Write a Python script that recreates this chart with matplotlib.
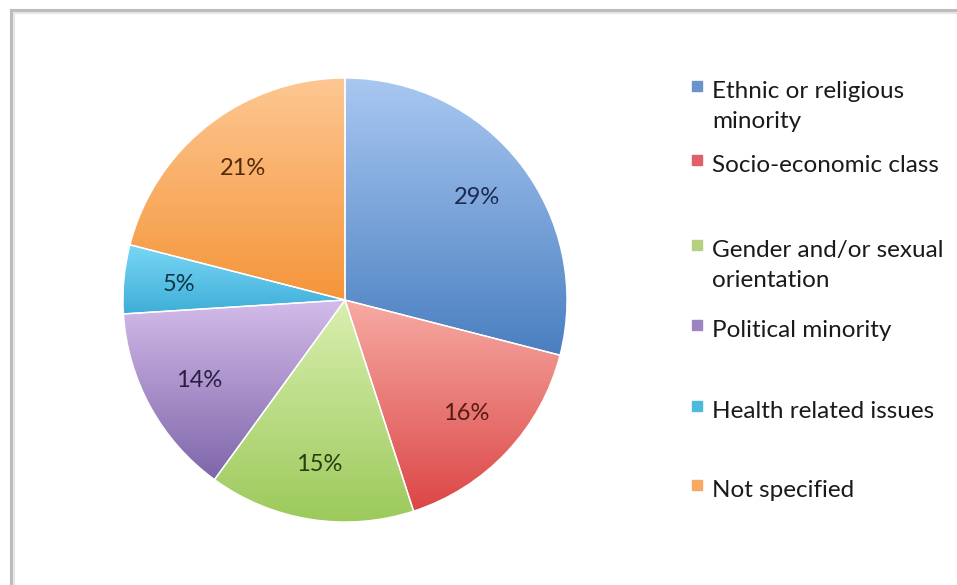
import numpy as np
import matplotlib
matplotlib.use("Agg")
import matplotlib.pyplot as plt
from matplotlib.colors import LinearSegmentedColormap
from matplotlib.lines import Line2D

categories = ["Ethnic or religious\nminority", "Socio-economic class",
              "Gender and/or sexual\norientation", "Political minority",
              "Health related issues", "Not specified"]
shares = [29, 16, 15, 14, 5, 21]

top_colors = ["#a9c8f2", "#f7aba4", "#d9efb0", "#d3bbea", "#7ad7f5", "#fdc792"]
bottom_colors = ["#4a7fc0", "#db4646", "#9bc95a", "#7e65a9", "#3eaed8", "#f5953a"]
key_colors = ["#6a93cc", "#e0606a", "#b4d080", "#9c84c4", "#4cbad8", "#f8a860"]
label_colors = ["#1c2a52", "#551c18", "#2b3c0f", "#2c1d44", "#0f3646", "#55290a"]

W, H, DPI = 957, 585, 100
fig = plt.figure(figsize=(W / DPI, H / DPI), dpi=DPI)
fig.patch.set_facecolor("white")

# pie centred at (345, 300) px with radius 222 px
R = 222
cx, cy = 345, 300
half = 1.25 * R
ax = fig.add_axes([(cx - half) / W, (H - cy - half) / H, 2 * half / W, 2 * half / H])

wedges, texts, autotexts = ax.pie(
    shares, startangle=90, counterclock=False, radius=1,
    autopct="%d%%", pctdistance=0.75,
    wedgeprops=dict(edgecolor="white", linewidth=1.0),
    textprops=dict(fontsize=17, family="Lato"))
ax.set_xlim(-1.25, 1.25)
ax.set_ylim(-1.25, 1.25)
ax.set_aspect("equal")
ax.axis("off")

# vertical gradient fill for each wedge
for w, ct, cb in zip(wedges, top_colors, bottom_colors):
    verts = w.get_path().vertices
    x0, x1 = verts[:, 0].min(), verts[:, 0].max()
    y0, y1 = verts[:, 1].min(), verts[:, 1].max()
    cmap = LinearSegmentedColormap.from_list("g", [cb, ct])
    grad = np.linspace(0, 1, 256).reshape(-1, 1)
    im = ax.imshow(grad, cmap=cmap, origin="lower", aspect="auto",
                   extent=[x0, x1, y0, y1], zorder=0.5, interpolation="bilinear")
    im.set_clip_path(w)
    w.set_facecolor("none")
    w.set_zorder(1)

for t, c in zip(autotexts, label_colors):
    t.set_color(c)
    t.set_zorder(3)

# legend drawn as keys and text in figure pixels (baseline of first line)
legend_baselines = [98, 172, 257, 337, 418, 497]
line_step = 30
for name, col, yb in zip(categories, key_colors, legend_baselines):
    yc = yb - 12
    fig.patches.append(plt.Rectangle((692 / W, (H - yc - 5) / H), 10 / W, 10 / H,
                                     transform=fig.transFigure, color=col, figure=fig))
    for k, line in enumerate(name.split("\n")):
        fig.text(712 / W, (H - yb - k * line_step) / H, line, fontsize=17.5,
                 family="Lato", color="#1a1a1a", va="baseline", ha="left")

# chart frame along top and left
fig.add_artist(Line2D([11 / W, 1], [(H - 10) / H] * 2, transform=fig.transFigure,
                      color="#bcbcbc", lw=2.2))
fig.add_artist(Line2D([11 / W] * 2, [0, (H - 10) / H], transform=fig.transFigure,
                      color="#bcbcbc", lw=2.2))
fig.add_artist(Line2D([13.5 / W, 1], [(H - 12.5) / H] * 2, transform=fig.transFigure,
                      color="#e6e6e6", lw=1.5))
fig.add_artist(Line2D([13.5 / W] * 2, [0, (H - 12.5) / H], transform=fig.transFigure,
                      color="#e6e6e6", lw=1.5))

fig.savefig("out.png", dpi=DPI)
